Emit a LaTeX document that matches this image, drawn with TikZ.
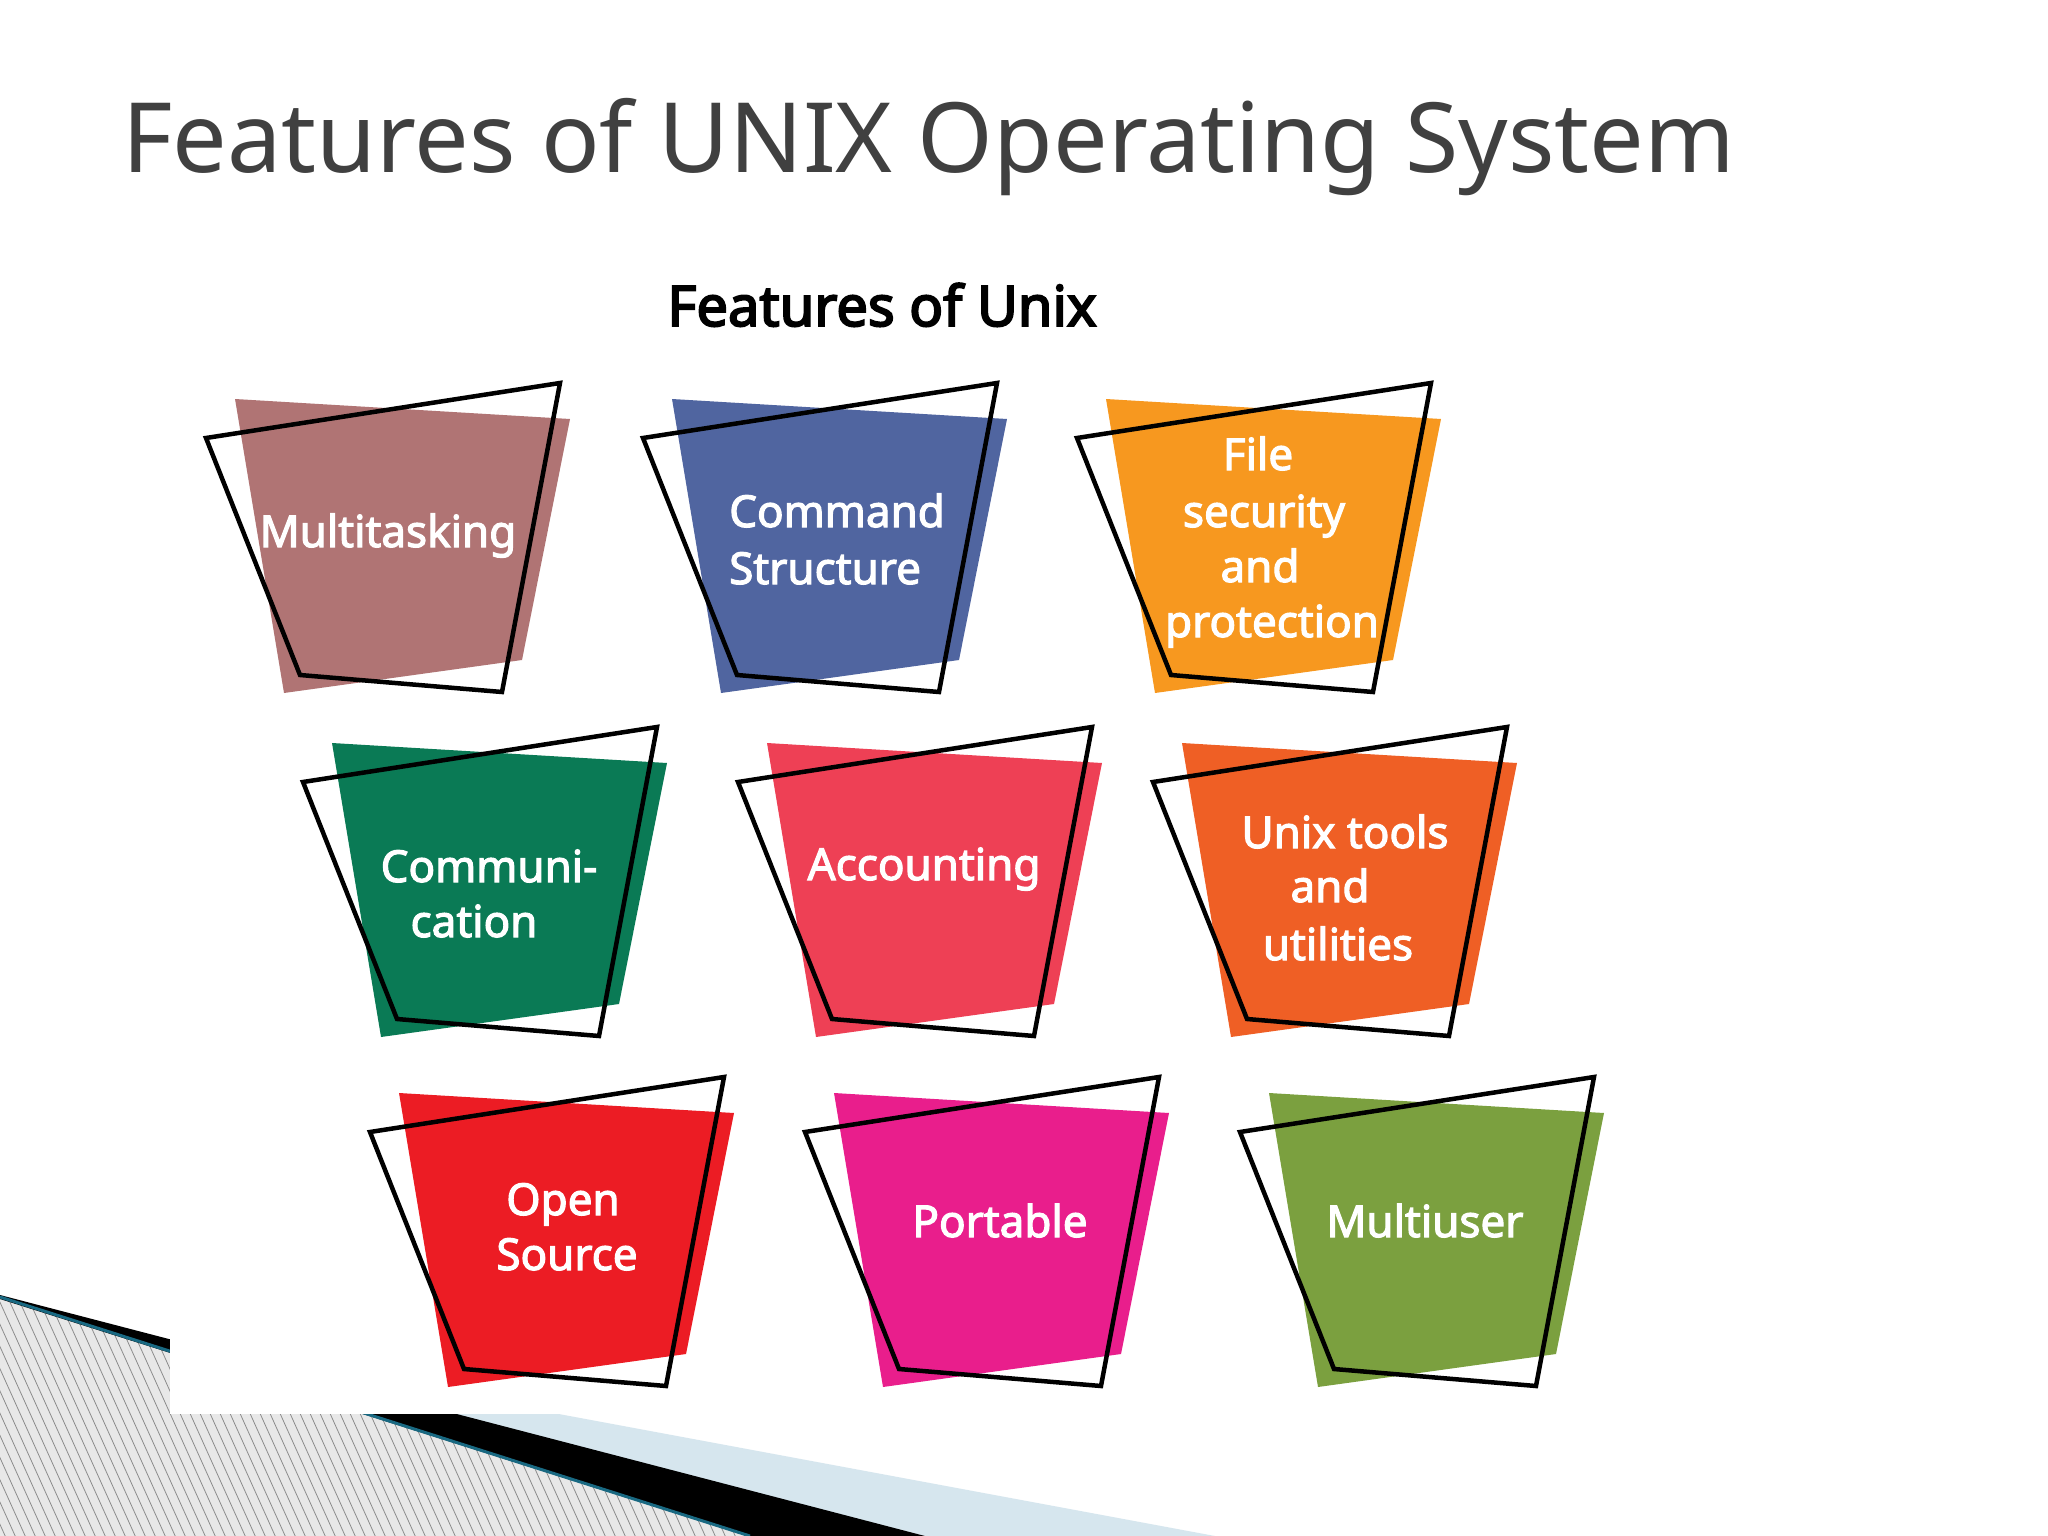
\documentclass[tikz,border=0pt]{standalone}
\usepackage{fontspec}
\setmainfont{Noto Sans}
\newfontfamily\tilefont[FakeBold=2.6]{Noto Sans}
\newfontfamily\subfont[FakeBold=3.5]{Noto Sans}
\definecolor{cA}{RGB}{176,116,116}
\definecolor{cB}{RGB}{80,101,160}
\definecolor{cC}{RGB}{247,152,31}
\definecolor{cD}{RGB}{10,122,85}
\definecolor{cE}{RGB}{238,64,85}
\definecolor{cF}{RGB}{239,95,37}
\definecolor{cG}{RGB}{236,28,36}
\definecolor{cH}{RGB}{233,30,140}
\definecolor{cI}{RGB}{123,160,63}
\definecolor{titlegray}{RGB}{64,64,64}
\definecolor{hatchbg}{RGB}{232,232,232}
\definecolor{hatchln}{RGB}{140,140,140}
\definecolor{tealln}{RGB}{25,105,130}
\definecolor{paleblue}{RGB}{214,230,238}
\tikzset{
  tilefill/.style={fill=#1},
  tileline/.style={draw=black,line width=4.5pt,line join=miter},
  tiletext/.style={text=white,inner sep=0pt,anchor=base,font=\tilefont\fontsize{44}{56}\selectfont},
}
\newcommand\drawtile[3]{%
  \begin{scope}[shift={(#1,#2)}]
    \fill[tilefill=#3] (29,-39) -- (364,-19) -- (316,222) -- (78,255) -- cycle;
    \draw[tileline] (0,0) -- (354,-55) -- (296,254) -- (94,237) -- cycle;
  \end{scope}}
\begin{document}
\begin{tikzpicture}[x=1pt,y=-1pt]
\useasboundingbox (0,0) rectangle (2048,1536);
\fill[white] (0,0) rectangle (2048,1536);
% decoration bottom-left
\begin{scope}
  \clip (0,1297) -- (750,1536) -- (0,1536) -- cycle;
  \fill[hatchbg] (0,1280) rectangle (760,1536);
  \foreach \i in {-15,...,80} {
    \draw[hatchln,line width=0.8pt] (\i*10,1280) -- ++(117,260);
  }
\end{scope}
\fill[paleblue] (150,1338) -- (1215,1536) -- (925,1536) -- cycle;
\fill[black] (0,1295) -- (925,1536) -- (748,1536) -- (0,1299) -- cycle;
\draw[tealln,line width=3pt] (0,1297) -- (750,1536);
% pasted image background
\fill[white] (170,250) rectangle (1600,1414);
% title
\node[anchor=base west,inner sep=0pt,text=titlegray,font=\fontsize{97}{116}\selectfont] (title) at (122,172) {Features of UNIX Operating System};
\node[anchor=base,inner sep=0pt,text=black,font=\subfont\fontsize{56}{66}\selectfont] (sub) at (882,326) {Features of Unix};
% tiles
\drawtile{206}{438}{cA}
\drawtile{643}{438}{cB}
\drawtile{1077}{438}{cC}
\drawtile{303}{782}{cD}
\drawtile{738}{782}{cE}
\drawtile{1153}{782}{cF}
\drawtile{370}{1132}{cG}
\drawtile{805}{1132}{cH}
\drawtile{1240}{1132}{cI}
% texts
\node[tiletext] (t1) at (388,547) {Multitasking};
\node[tiletext,anchor=base west] (t2a) at (729,527) {Command};
\node[tiletext,anchor=base west] (t2b) at (729,584) {Structure};
\node[tiletext] (t3a) at (1258,470) {File};
\node[tiletext] (t3b) at (1264,527) {security};
\node[tiletext] (t3c) at (1260,582) {and};
\node[tiletext] (t3d) at (1272,637) {protection};
\node[tiletext] (t4a) at (489,882) {Communi-};
\node[tiletext] (t4b) at (474,937) {cation};
\node[tiletext] (t5) at (924,880) {Accounting};
\node[tiletext] (t6a) at (1345,848) {Unix tools};
\node[tiletext] (t6b) at (1330,902) {and};
\node[tiletext] (t6c) at (1338,960) {utilities};
\node[tiletext] (t7a) at (563,1215) {Open};
\node[tiletext] (t7b) at (567,1270) {Source};
\node[tiletext] (t8) at (1000,1237) {Portable};
\node[tiletext] (t9) at (1425,1237) {Multiuser};
\end{tikzpicture}
\end{document}
